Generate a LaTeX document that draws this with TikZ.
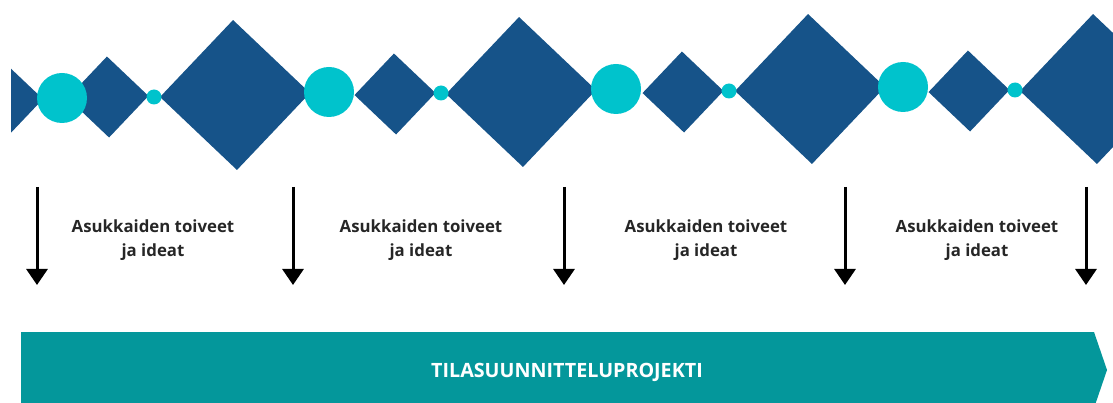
\documentclass[tikz,border=0pt]{standalone}
\usepackage{fontspec}
\setmainfont{Open Sans}
\usepackage{tikz}
\usetikzlibrary{shapes.geometric,arrows.meta}
\definecolor{darkblue}{HTML}{165389}
\definecolor{lightcyan}{HTML}{00C3CC}
\definecolor{projteal}{HTML}{04979B}

\begin{document}
\begin{tikzpicture}[
            x = 1pt, y = -1pt,
            every node/.style = {inner sep = 0pt, outer sep = 0pt},
            bigdia/.style = {diamond, fill = darkblue, minimum width = 150pt, minimum height = 150pt, rotate = 1.5},
            middia/.style = {diamond, fill = darkblue, minimum width = 81pt, minimum height = 81pt, rotate = 1.5},
            bigdot/.style = {circle, fill = lightcyan, minimum size = 50pt},
            smalldot/.style = {circle, fill = lightcyan, minimum size = 15pt},
            idea/.style = {align = center, font = \bfseries\fontsize{16.8}{24}\selectfont, text = black!85},
            downarrow/.style = {draw, line width = 3pt, -{Triangle[width = 21pt, length = 16pt]}}
        ]
        \useasboundingbox (0,0) rectangle (1113,403);

        % top band
        \begin{scope}
            \clip (11,0) rectangle (1113,180);
            \node[bigdia] (big0) at (-32,101) {};
            \node[middia] (mid1) at (108,97) {};
            \node[bigdia] (big1) at (235,95) {};
            \node[middia] (mid2) at (395,94) {};
            \node[bigdia] (big2) at (521,92) {};
            \node[middia] (mid3) at (683,92) {};
            \node[bigdia] (big3) at (810,89) {};
            \node[middia] (mid4) at (969,91) {};
            \node[bigdia] (big4) at (1095,89) {};
            \node[bigdot] (dot1) at (62,98) {};
            \node[smalldot] (sdot1) at (154,97) {};
            \node[bigdot] (dot2) at (329,92) {};
            \node[smalldot] (sdot2) at (441,93) {};
            \node[bigdot] (dot3) at (616,89) {};
            \node[smalldot] (sdot3) at (729,91) {};
            \node[bigdot] (dot4) at (903,87) {};
            \node[smalldot] (sdot4) at (1015,90) {};
        \end{scope}

        % arrows
        \coordinate (top1) at (37,187);   \coordinate (tip1) at (37,285);
        \coordinate (top2) at (293,187);  \coordinate (tip2) at (293,285);
        \coordinate (top3) at (564,187);  \coordinate (tip3) at (564,285);
        \coordinate (top4) at (845,187);  \coordinate (tip4) at (845,285);
        \coordinate (top5) at (1086,187); \coordinate (tip5) at (1086,285);
        \draw[downarrow] (top1) -- (tip1);
        \draw[downarrow] (top2) -- (tip2);
        \draw[downarrow] (top3) -- (tip3);
        \draw[downarrow] (top4) -- (tip4);
        \draw[downarrow] (top5) -- (tip5);

        \node[idea] (idea1) at (153,240) {Asukkaiden toiveet\\ja ideat};
        \node[idea] (idea2) at (421,240) {Asukkaiden toiveet\\ja ideat};
        \node[idea] (idea3) at (706,240) {Asukkaiden toiveet\\ja ideat};
        \node[idea] (idea4) at (977,240) {Asukkaiden toiveet\\ja ideat};

        % project bar
        \begin{scope}
            \clip (0,0) rectangle (1113,403);
            \fill[projteal] (21,332) -- (1094,332) -- (1107,370) -- (1094,408) -- (21,408) -- cycle;
        \end{scope}
        \node[text = white, font = \bfseries\fontsize{19.7}{24}\selectfont] (projekti) at (567,372) {TILASUUNNITTELUPROJEKTI};
    \end{tikzpicture}
\end{document}
